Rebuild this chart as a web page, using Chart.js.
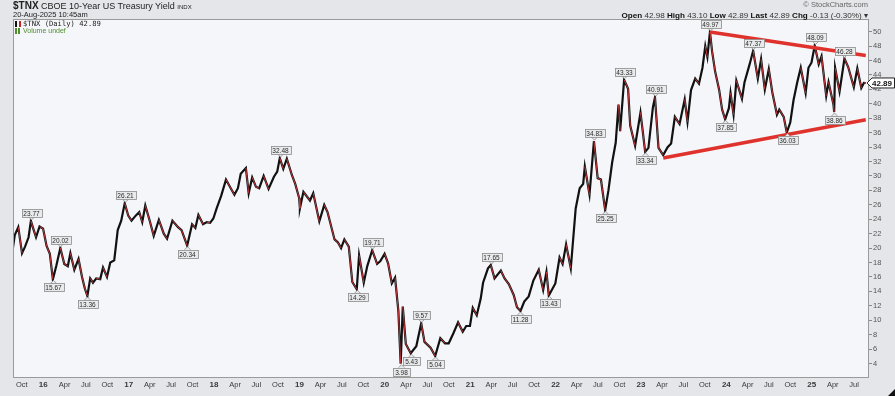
<!DOCTYPE html>
<html>
<head>
<meta charset="utf-8">
<script src="https://cdn.jsdelivr.net/npm/chart.js@4.4.1/dist/chart.umd.min.js"></script>
<style>
  html,body{margin:0;padding:0;background:#e4e6e9;}
  #wrap{position:relative;width:895px;height:396px;overflow:hidden;font-family:Arial,"Liberation Sans",sans-serif;}
  canvas{position:absolute;left:0;top:0;}
  .t{position:absolute;white-space:nowrap;color:#222;}
  #sym{left:13px;top:0px;font-size:9px;line-height:11px;}
  #sym b{font-size:10px;}
  #sym .idx{font-size:6px;}
  #date{left:13px;top:11px;font-size:7.5px;line-height:8px;color:#222;}
  #leg1{left:15px;top:20px;font-family:"DejaVu Sans Mono",monospace;font-size:7.2px;line-height:8px;color:#222;}
  #leg2{left:15px;top:27px;font-size:7px;line-height:8px;color:#4e8e2e;}
  #copy{right:27px;top:0px;font-size:7.5px;line-height:9px;color:#666;}
  #ohlc{right:27px;top:10.5px;font-size:8.1px;line-height:9px;color:#333;}
  #ohlc b{color:#111;}
  .ic{display:inline-block;width:6px;height:6px;margin-right:2px;vertical-align:-1px;}
  #corner{position:absolute;right:0;bottom:0;width:0;height:0;border-left:7px solid transparent;border-bottom:7px solid #111;}
</style>
</head>
<body>
<div id="wrap">
  <canvas id="c" width="895" height="396"></canvas>
  <div class="t" id="sym"><b>$TNX</b> CBOE 10-Year US Treasury Yield <span class="idx">INDX</span></div>
  <div class="t" id="date">20-Aug-2025 10:45am</div>
  <div class="t" id="leg1"><span class="ic" style="border-left:2px solid #111;border-right:2px solid #c22;width:2px;"></span>$TNX (Daily) 42.89</div>
  <div class="t" id="leg2"><span class="ic" style="background:linear-gradient(to right,#4e8e2e 0 2px,transparent 2px 3px,#4e8e2e 3px 5px,transparent 5px);"></span>Volume undef</div>
  <div class="t" id="copy">&copy; StockCharts.com</div>
  <div class="t" id="ohlc"><b>Open</b> 42.98 <b>High</b> 43.10 <b>Low</b> 42.89 <b>Last</b> 42.89 <b>Chg</b> -0.13 (-0.30%) &#9662;</div>
  <div id="corner"></div>
</div>
<script>
// ---------- DATA (10-Year yield x10) ----------
const dates = [
'2015-08-20','2015-08-24','2015-09-01','2015-09-16','2015-10-02','2015-10-15','2015-10-30','2015-11-09','2015-11-20','2015-12-01','2015-12-16','2015-12-31',
'2016-01-15','2016-01-29','2016-02-11','2016-02-26','2016-03-14','2016-03-31','2016-04-15','2016-04-26','2016-05-13','2016-05-31','2016-06-15','2016-06-27',
'2016-07-08','2016-07-20','2016-08-01','2016-08-15','2016-09-01','2016-09-13','2016-09-30','2016-10-14','2016-10-31','2016-11-09','2016-11-15','2016-11-30','2016-12-15','2016-12-30',
'2017-01-13','2017-01-31','2017-02-15','2017-02-28','2017-03-13','2017-03-31','2017-04-18','2017-05-10','2017-05-31','2017-06-14','2017-07-07','2017-07-31',
'2017-08-15','2017-09-08','2017-09-29','2017-10-13','2017-10-26','2017-11-15','2017-12-01','2017-12-15','2017-12-29',
'2018-01-12','2018-01-31','2018-02-21','2018-03-15','2018-03-29','2018-04-13','2018-04-25','2018-05-17','2018-05-29','2018-06-13','2018-06-29','2018-07-13',
'2018-08-01','2018-08-22','2018-09-14','2018-09-28','2018-10-09','2018-10-24','2018-11-08','2018-11-30','2018-12-14','2018-12-31',
'2019-01-03','2019-01-18','2019-02-15','2019-03-01','2019-03-27','2019-04-17','2019-05-01','2019-05-31','2019-06-14','2019-06-28','2019-07-12','2019-07-31',
'2019-08-15','2019-09-03','2019-09-13','2019-10-03','2019-10-18','2019-11-08','2019-11-29','2019-12-13','2019-12-31',
'2020-01-15','2020-01-31','2020-02-14','2020-02-28','2020-03-09','2020-03-18','2020-03-31','2020-04-21','2020-05-15','2020-06-05','2020-06-19','2020-07-15',
'2020-08-04','2020-08-26','2020-09-15','2020-10-01','2020-10-21','2020-11-10','2020-11-30','2020-12-15','2020-12-31',
'2021-01-12','2021-01-29','2021-02-15','2021-02-25','2021-03-18','2021-03-30','2021-04-15','2021-05-12','2021-05-28','2021-06-15','2021-07-06','2021-07-20',
'2021-08-04','2021-08-20','2021-09-08','2021-09-28','2021-10-21','2021-11-09','2021-11-23','2021-12-03','2021-12-31',
'2022-01-18','2022-01-31','2022-02-15','2022-03-07','2022-03-28','2022-04-14','2022-04-29','2022-05-06','2022-05-26','2022-06-14','2022-06-30','2022-07-14',
'2022-08-01','2022-08-15','2022-08-31','2022-09-15','2022-09-27','2022-10-04','2022-10-21','2022-11-07','2022-11-16','2022-12-07','2022-12-30',
'2023-01-05','2023-01-19','2023-02-02','2023-02-21','2023-03-02','2023-03-17','2023-04-06','2023-04-25','2023-05-10','2023-05-26','2023-06-15','2023-07-07',
'2023-07-19','2023-08-03','2023-08-21','2023-09-06','2023-09-21','2023-10-03','2023-10-12','2023-10-23','2023-11-01','2023-11-14','2023-12-01','2023-12-14','2023-12-27',
'2024-01-12','2024-01-19','2024-02-01','2024-02-13','2024-03-08','2024-03-19','2024-04-10','2024-04-25','2024-05-15','2024-05-29','2024-06-14','2024-07-01',
'2024-07-16','2024-08-05','2024-08-15','2024-09-03','2024-09-16','2024-10-01','2024-10-15','2024-10-31','2024-11-15','2024-12-06','2024-12-18','2024-12-31',
'2025-01-14','2025-01-31','2025-02-12','2025-03-04','2025-03-14','2025-04-04','2025-04-07','2025-04-11','2025-04-30','2025-05-21','2025-06-06','2025-06-30',
'2025-07-15','2025-08-01','2025-08-12','2025-08-20'
];
const yields = [
20.8,20.0,21.8,22.9,19.3,20.2,21.5,23.77,22.6,21.5,23.0,22.7,
20.3,19.2,15.67,17.6,20.02,17.8,17.5,19.3,17.0,18.5,16.0,14.4,
13.36,15.8,15.2,15.8,15.7,17.3,16.0,18.0,18.3,20.8,22.5,23.8,26.21,24.5,
23.8,24.5,25.0,23.6,25.9,23.9,21.7,23.9,22.0,21.3,23.8,22.9,
22.5,20.34,23.3,22.8,24.6,23.3,23.6,23.5,24.1,
25.5,27.2,29.5,28.2,27.4,28.3,30.3,31.1,27.6,29.8,28.5,28.3,
30.0,28.2,29.9,30.6,32.48,31.0,32.4,30.1,28.9,26.9,
25.5,27.8,26.6,27.6,23.7,26.0,25.0,21.2,20.8,20.0,21.2,20.2,
15.3,14.29,19.0,15.2,17.5,19.71,17.8,18.2,19.2,
17.9,15.1,15.9,11.3,3.98,11.9,6.7,5.43,6.4,9.57,7.0,6.2,
5.04,7.5,6.8,6.8,8.2,9.7,8.4,9.2,9.2,
11.7,10.7,13.0,15.2,17.2,17.65,15.8,16.9,15.8,15.0,13.5,11.8,
11.28,12.6,13.3,15.5,17.0,14.2,16.7,13.43,15.1,
18.7,17.8,20.5,17.2,25.5,28.3,28.9,31.3,27.4,34.83,29.7,29.5,
25.25,28.0,31.9,34.6,39.9,36.2,43.33,42.1,37.0,34.2,38.8,
37.2,33.34,33.9,39.5,40.91,33.9,32.9,34.0,34.5,38.2,37.2,40.6,
37.5,41.9,43.5,42.8,45.0,48.0,46.5,49.97,47.3,44.5,42.0,39.2,37.85,
39.4,41.5,38.5,43.2,40.7,43.0,45.5,47.37,43.5,46.2,42.0,44.8,
41.6,38.5,39.2,38.2,36.03,37.4,40.5,43.0,45.0,41.5,45.0,45.7,
48.09,45.5,46.6,41.1,43.0,39.9,38.86,45.0,41.7,46.28,45.1,42.3,
44.9,42.2,42.9,42.89
];
// labelled highs / lows (date, value, side)
const annDates  = ['2015-11-09','2016-02-11','2016-03-14','2016-07-08','2016-12-15','2017-09-08','2018-10-09','2019-09-03','2019-11-08','2020-03-09','2020-04-21','2020-06-05','2020-08-04','2021-03-30','2021-08-04','2021-12-03','2022-06-14','2022-08-01','2022-10-21','2023-01-19','2023-03-02','2023-10-23','2023-12-27','2024-04-25','2024-09-16','2025-01-14','2025-04-07','2025-05-21'];
const annValues = [23.77,15.67,20.02,13.36,26.21,20.34,32.48,14.29,19.71,3.98,5.43,9.57,5.04,17.65,11.28,13.43,34.83,25.25,43.33,33.34,40.91,49.97,37.85,47.37,36.03,48.09,38.86,46.28];
const annSide   = ['up','dn','up','dn','up','dn','up','dn','up','dn','dn','up','dn','up','dn','dn','up','dn','up','dn','up','up','dn','up','dn','up','dn','up'];
// trend lines
const resistDates = ['2023-10-23','2025-08-20'];
const resistVals  = [49.97,46.7];
const supportDates = ['2023-04-06','2025-08-20'];
const supportVals  = [32.5,37.8];
// axis ticks
const xTickDates = ['2015-10-01','2016-01-01','2016-04-01','2016-07-01','2016-10-01','2017-01-01','2017-04-01','2017-07-01','2017-10-01','2018-01-01','2018-04-01','2018-07-01','2018-10-01','2019-01-01','2019-04-01','2019-07-01','2019-10-01','2020-01-01','2020-04-01','2020-07-01','2020-10-01','2021-01-01','2021-04-01','2021-07-01','2021-10-01','2022-01-01','2022-04-01','2022-07-01','2022-10-01','2023-01-01','2023-04-01','2023-07-01','2023-10-01','2024-01-01','2024-04-01','2024-07-01','2024-10-01','2025-01-01','2025-04-01','2025-07-01'];
const xTickLabels = ['Oct','16','Apr','Jul','Oct','17','Apr','Jul','Oct','18','Apr','Jul','Oct','19','Apr','Jul','Oct','20','Apr','Jul','Oct','21','Apr','Jul','Oct','22','Apr','Jul','Oct','23','Apr','Jul','Oct','24','Apr','Jul','Oct','25','Apr','Jul'];
const yTicks = [4,6,8,10,12,14,16,18,20,22,24,26,28,30,32,34,36,38,40,42,44,46,48,50];
const lastValue = 42.89;

// ---------- helpers ----------
function toYear(s){
  const [y,m,d] = s.split('-').map(Number);
  const a = Date.UTC(y,0,1), b = Date.UTC(y+1,0,1);
  return y + (Date.UTC(y,m-1,d)-a)/(b-a);
}
const series = dates.map((d,i)=>({x:toYear(d), y:yields[i]}));
const resist = resistDates.map((d,i)=>({x:toYear(d), y:resistVals[i]}));
const support = supportDates.map((d,i)=>({x:toYear(d), y:supportVals[i]}));
const xTickVals = xTickDates.map(toYear);
const labelMap = new Map(xTickVals.map((v,i)=>[v.toFixed(5), xTickLabels[i]]));

const X_MIN = 2015.645, X_MAX = 2025.671;
const Y_MIN = 2.13, Y_MAX = 51.76;

const framePlugin = {
  id:'frame',
  beforeDraw(chart){
    const {ctx, chartArea:a} = chart;
    ctx.save();
    ctx.fillStyle = '#e4e6e9';
    ctx.fillRect(0,0,chart.width,chart.height);
    ctx.fillStyle = '#f4f6f9';
    ctx.fillRect(a.left,a.top,a.right-a.left,a.bottom-a.top);
    ctx.restore();
  },
  afterDraw(chart){
    const {ctx, chartArea:a, scales} = chart;
    ctx.save();
    ctx.strokeStyle = '#9a9a9a';
    ctx.lineWidth = 1;
    ctx.strokeRect(a.left+0.5,a.top+0.5,a.right-a.left-1,a.bottom-a.top);
    // price tag
    const py = scales.y.getPixelForValue(lastValue);
    ctx.fillStyle = '#ffffff';
    ctx.strokeStyle = '#222';
    ctx.beginPath();
    ctx.moveTo(a.right-2, py);
    ctx.lineTo(a.right+3, py-5);
    ctx.lineTo(894.5, py-5);
    ctx.lineTo(894.5, py+5);
    ctx.lineTo(a.right+3, py+5);
    ctx.closePath();
    ctx.fill(); ctx.stroke();
    ctx.fillStyle = '#111';
    ctx.font = 'bold 8px Arial, "Liberation Sans", sans-serif';
    ctx.textAlign = 'left'; ctx.textBaseline = 'middle';
    ctx.fillText(lastValue.toFixed(2), a.right+3, py+0.5);
    ctx.restore();
  },
  afterDatasetsDraw(chart){
    const {ctx, scales} = chart;
    ctx.save();
    ctx.font = '6.5px Arial, "Liberation Sans", sans-serif';
    ctx.textAlign = 'center'; ctx.textBaseline = 'middle';
    annDates.forEach((d,i)=>{
      const px = Math.round(scales.x.getPixelForValue(toYear(d)))+0.5;
      const py = scales.y.getPixelForValue(annValues[i]);
      const txt = annValues[i].toFixed(2);
      const w = Math.round(ctx.measureText(txt).width)+4, h = 8;
      const up = annSide[i]==='up';
      const edge = up ? py-4 : py+4;
      const top = up ? edge-h : edge;
      const left = Math.round(px - w/2)+0.5;
      ctx.fillStyle = '#e9eaec';
      ctx.strokeStyle = '#8c8c8c';
      ctx.lineWidth = 0.8;
      ctx.beginPath();
      ctx.moveTo(px-3, edge); ctx.lineTo(px, up?py-1:py+1); ctx.lineTo(px+3, edge);
      ctx.fill(); ctx.stroke();
      ctx.fillRect(left, Math.round(top)+0.5, w, h);
      ctx.strokeRect(left, Math.round(top)+0.5, w, h);
      ctx.fillStyle = '#2a2a2a';
      ctx.fillText(txt, px, Math.round(top)+0.5+h/2+0.5);
    });
    ctx.restore();
  }
};

// note: Chart.js paints lower-index datasets on top
new Chart(document.getElementById('c'), {
  type:'line',
  data:{datasets:[
    {data:resist, borderColor:'#e0322c', borderWidth:3.5, pointRadius:0},
    {data:support, borderColor:'#e0322c', borderWidth:3.5, pointRadius:0},
    {data:series, borderWidth:0.9, pointRadius:0, tension:0,
     segment:{borderColor:c => c.p1.parsed.y < c.p0.parsed.y ? '#d23a40' : 'rgba(0,0,0,0)'}},
    {data:series, borderColor:'#111', borderWidth:2.2, pointRadius:0, tension:0}
  ]},
  options:{
    responsive:false, animation:false, events:[],
    layout:{padding:{left:13, top:19, right:0, bottom:0}},
    plugins:{legend:{display:false}, tooltip:{enabled:false}},
    scales:{
      x:{type:'linear', min:X_MIN, max:X_MAX,
         grid:{display:false, drawTicks:false}, border:{display:false},
         afterFit(s){ s.height = 19; },
         afterBuildTicks(s){ s.ticks = xTickVals.map(v=>({value:v})); },
         ticks:{padding:3, maxRotation:0, autoSkip:false, color:'#3a3a3a',
           callback:(v)=>labelMap.get(Number(v).toFixed(5)) || '',
           font:(c)=>{ const l = c.tick ? labelMap.get(Number(c.tick.value).toFixed(5)) : ''; return /^\d/.test(l||'') ? {size:8, weight:'bold', family:'Arial'} : {size:7.5, family:'Arial'}; }
         }},
      y:{type:'linear', position:'right', min:Y_MIN, max:Y_MAX,
         grid:{display:true, drawOnChartArea:false, tickLength:3, color:'#8a8a8a'},
         border:{display:false},
         afterFit(s){ s.width = 26; },
         afterBuildTicks(s){ s.ticks = yTicks.map(v=>({value:v})); },
         ticks:{padding:1, color:'#555', font:{size:7.5, family:'Arial'}, callback:v=>String(v)}}
    }
  },
  plugins:[framePlugin]
});
</script>
</body>
</html>
